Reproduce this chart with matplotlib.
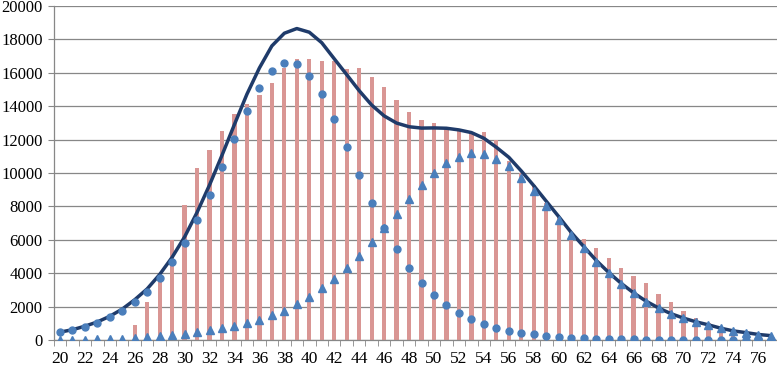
import numpy as np
import matplotlib.pyplot as plt
from matplotlib.ticker import MultipleLocator, FixedLocator

plt.rcParams['font.family'] = ['Liberation Serif', 'DejaVu Serif']

# age categories 20..77
ages = list(range(20, 78))

# pink bars (observed)
bars = [0, 0, 0, 0, 0, 0, 900, 2250, 3700, 6000,
        8100, 10280, 11360, 12500, 13510, 14130, 14670, 15410, 16310, 16800,
        16820, 16730, 16680, 16230, 16260, 15730, 15130, 14370, 13670, 13170,
        13010, 12680, 12580, 12380, 12460, 11980, 10720, 10000, 9300, 8200,
        7370, 6470, 6050, 5490, 4930, 4330, 3830, 3390, 2750, 2260,
        1740, 1300, 1000, 700, 480, 350, 250, 150]

# first component (circles)
comp1 = [460, 600, 800, 1040, 1360, 1760, 2280, 2890, 3690, 4650,
         5790, 7170, 8700, 10340, 12060, 13690, 15110, 16110, 16610, 16510,
         15830, 14710, 13210, 11580, 9880, 8220, 6690, 5430, 4330, 3410,
         2700, 2100, 1600, 1240, 960, 720, 540, 420, 340, 260,
         200, 150, 110, 80, 60, 45, 35, 25, 20, 15,
         12, 10, 8, 6, 5, 4, 3, 2]

# second component (triangles)
comp2 = [10, 15, 25, 40, 60, 90, 130, 170, 230, 300,
         380, 470, 580, 720, 850, 1030, 1180, 1500, 1760, 2140,
         2600, 3090, 3630, 4310, 5050, 5850, 6730, 7560, 8440, 9280,
         10000, 10580, 10980, 11180, 11120, 10820, 10400, 9700, 8900, 8050,
         7190, 6290, 5490, 4690, 3990, 3350, 2790, 2300, 1900, 1560,
         1300, 1080, 900, 700, 540, 440, 330, 260]

# mixture = sum of both components
total = np.array(comp1) + np.array(comp2)

fig = plt.figure(figsize=(7.77, 3.66), dpi=100)
ax = fig.add_axes([0.069, 0.071, 0.931, 0.9126])

ax.bar(ages, bars, width=0.34, color='#D99694', zorder=2)
ax.plot(ages, total, color='#1F3B6A', linewidth=2.5, zorder=3,
        solid_joinstyle='round')
ax.plot(ages, comp2, linestyle='none', marker='^', markersize=6,
        color='#4A7EBB', zorder=4)
ax.plot(ages, comp1, linestyle='none', marker='o', markersize=5,
        color='#4A7EBB', zorder=5)

ax.set_xlim(19.5, 77.5)
ax.set_ylim(0, 20000)
ax.yaxis.set_major_locator(MultipleLocator(2000))
ax.xaxis.set_major_locator(FixedLocator(list(range(20, 78, 2))))
ax.xaxis.set_minor_locator(FixedLocator([a + 0.5 for a in range(19, 78)]))

ax.grid(axis='y', color='#878787', linewidth=0.9, zorder=0)
ax.set_axisbelow(True)

for s in ['top', 'right']:
    ax.spines[s].set_visible(False)
for s in ['left', 'bottom']:
    ax.spines[s].set_color('#878787')
    ax.spines[s].set_linewidth(0.9)

ax.tick_params(axis='x', which='major', length=0, pad=8, labelsize=12.5)
ax.tick_params(axis='x', which='minor', length=4, color='#878787', direction='out')
ax.tick_params(axis='y', length=4, color='#878787', pad=4, labelsize=12)

fig.savefig('out.png', dpi=100)
